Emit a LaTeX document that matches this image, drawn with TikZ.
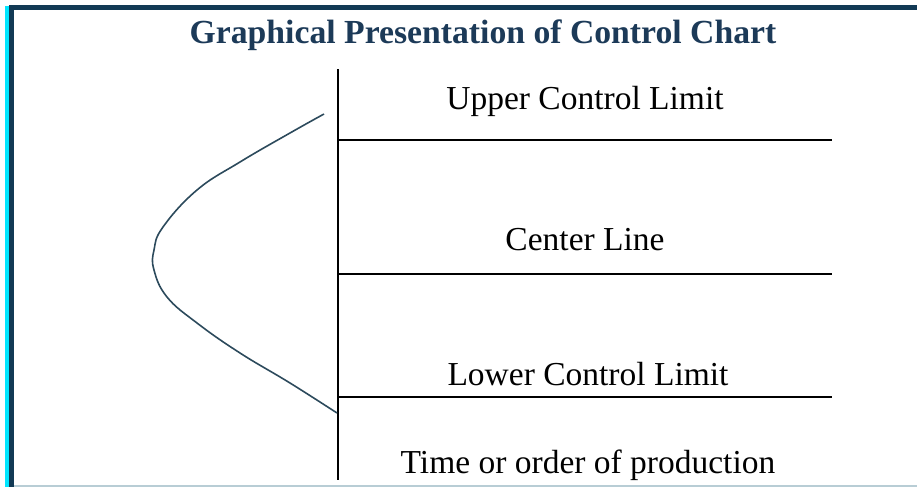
\documentclass[tikz,border=0pt]{standalone}
\usepackage{fontspec}
\setmainfont{Liberation Serif}
\usepackage{tikz}
\usepackage{xcolor}
\definecolor{framenavy}{RGB}{18, 58, 85}
\definecolor{framecyan}{RGB}{0, 230, 255}
\definecolor{titlenavy}{RGB}{28, 58, 88}
\definecolor{curvegrey}{RGB}{44, 74, 92}
\definecolor{edgegrey}{RGB}{184, 205, 213}

\begin{document}
\begin{tikzpicture}[x=1pt, y=-1pt]
    \useasboundingbox (0, 0) rectangle (917, 487);
    % frame
    \fill[framecyan] (5, 6) rectangle (9, 487);
    \fill[framenavy] (9, 5) rectangle (14, 487);
    \fill[framenavy] (9, 5) rectangle (917, 10);
    \fill[edgegrey] (14, 485) rectangle (917, 487);
    \node[font=\fontsize{33.7}{40}\selectfont\bfseries, text=titlenavy, anchor=base] (title) at (483, 44) {Graphical Presentation of Control Chart};
    % axis and limit lines
    \coordinate (axtop) at (338, 69);
    \coordinate (axbot) at (338, 480);
    \coordinate (uclL) at (338, 140);
    \coordinate (uclR) at (832, 140);
    \coordinate (clL) at (338, 274);
    \coordinate (clR) at (832, 274);
    \coordinate (lclL) at (338, 397);
    \coordinate (lclR) at (832, 397);
    \draw[line width=1.5pt] (axtop) -- (axbot);
    \draw[line width=1.5pt] (uclL) -- (uclR);
    \draw[line width=1.5pt] (clL) -- (clR);
    \draw[line width=1.5pt] (lclL) -- (lclR);
    \node[font=\fontsize{33.5}{40}\selectfont, anchor=base] (ucl) at (585, 109) {Upper Control Limit};
    \node[font=\fontsize{33.5}{40}\selectfont, anchor=base] (cl) at (585, 250) {Center Line};
    \node[font=\fontsize{33.5}{40}\selectfont, anchor=base] (lcl) at (588, 385) {Lower Control Limit};
    \node[font=\fontsize{33.5}{40}\selectfont, anchor=base] (xlabel) at (588, 473) {Time or order of production};
    % distribution curve
    \draw[curvegrey, line width=1.6pt] plot[smooth, tension=0.7] coordinates {
      (324, 114) (290, 133) (240, 162) (197, 190) (163, 227) (154, 250)
      (154, 270) (167, 297) (197, 323) (240, 353) (290, 383) (337, 413)
    };
  \end{tikzpicture}
\end{document}
